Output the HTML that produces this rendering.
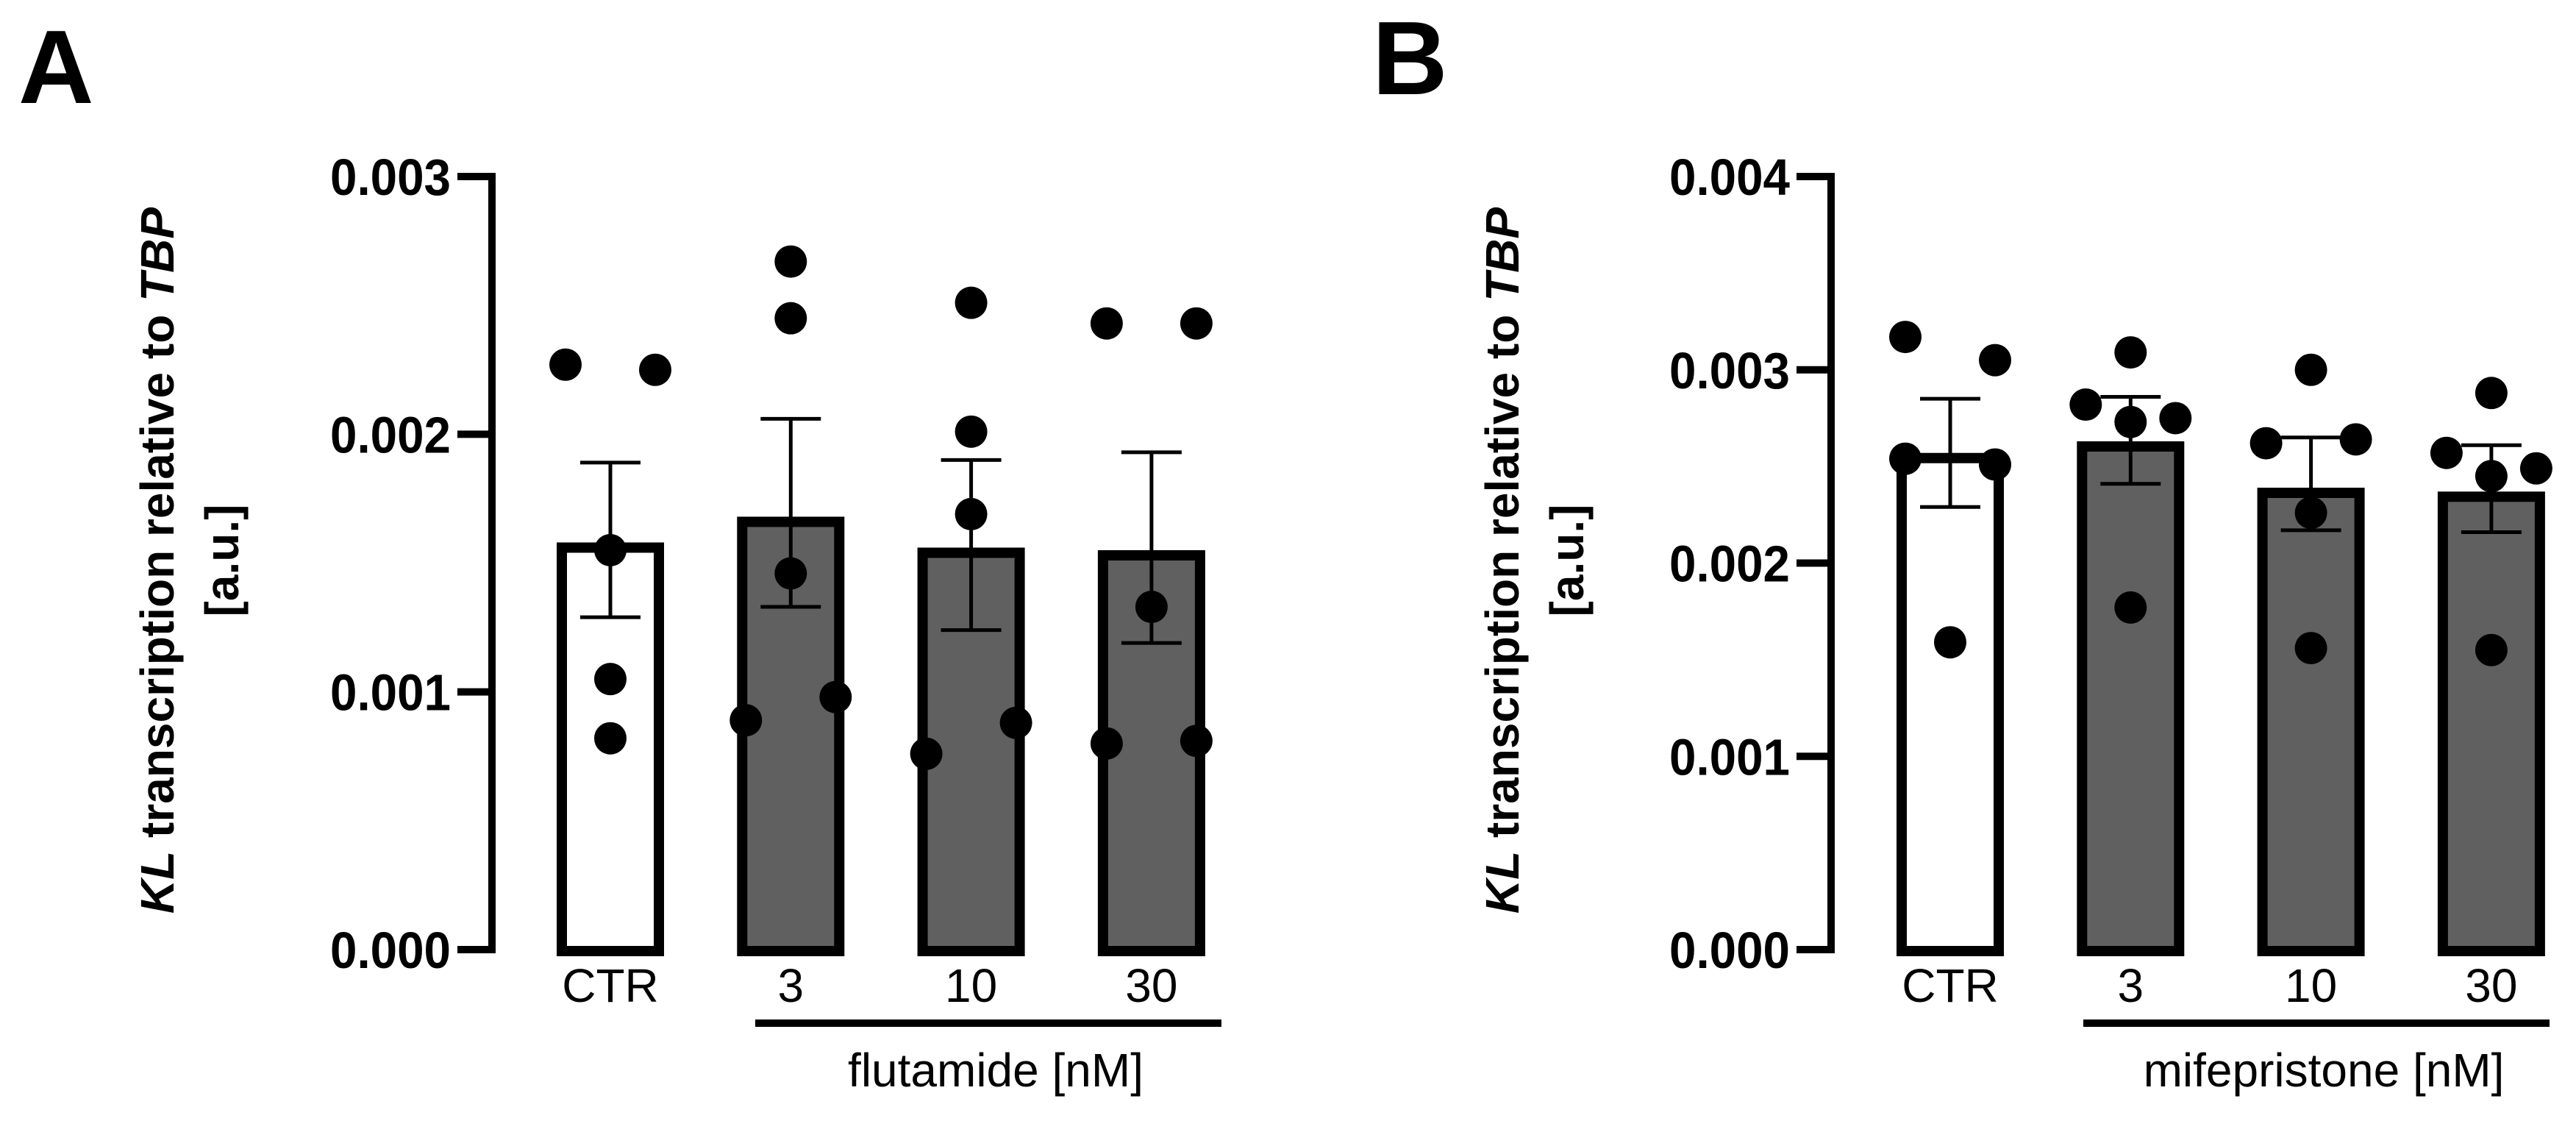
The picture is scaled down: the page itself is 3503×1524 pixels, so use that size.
<!DOCTYPE html>
<html><head><meta charset="utf-8"><style>
html,body{margin:0;padding:0;background:#fff;}
svg{display:block;font-family:"Liberation Sans",Arial,sans-serif;}
</style></head><body>
<svg id="fig" width="3503" height="1524" viewBox="0 0 3503 1524" xmlns="http://www.w3.org/2000/svg">
<rect x="0" y="0" width="3503" height="1524" fill="#fff"/>
<text x="25" y="140" font-size="142" font-weight="bold">A</text>
<text x="1866" y="128" font-size="142" font-weight="bold">B</text>
<g id="panelA"></g>
<g id="panelB"></g>
</svg>
<script>
const categories = ["CTR", "3", "10", "30"];
const meansA = [0.00158, 0.00168, 0.00156, 0.00155];
const errHiA = [0.00189, 0.00206, 0.00190, 0.00193];
const errLoA = [0.00129, 0.00133, 0.00124, 0.00119];
const dotsA = [
  [0.00227, 0.00225, 0.00155, 0.00105, 0.00082],
  [0.00267, 0.00245, 0.00146, 0.00089, 0.00098],
  [0.00251, 0.00201, 0.00169, 0.00076, 0.00088],
  [0.00243, 0.00243, 0.00133, 0.00080, 0.00081]
];
const dotSideA = [
  [-1, 1, 0, 0, 0],
  [0, 0, 0, -1, 1],
  [0, 0, 0, -1, 1],
  [-1, 1, 0, -1, 1]
];
const ticksA = [0, 0.001, 0.002, 0.003];
const tickLabelsA = ["0.000", "0.001", "0.002", "0.003"];

const meansB = [0.00257, 0.00263, 0.00239, 0.00237];
const errHiB = [0.00285, 0.00286, 0.00265, 0.00261];
const errLoB = [0.00229, 0.00241, 0.00217, 0.00216];
const dotsB = [
  [0.00317, 0.00305, 0.00254, 0.00251, 0.00159],
  [0.00309, 0.00282, 0.00273, 0.00275, 0.00177],
  [0.00300, 0.00262, 0.00264, 0.00226, 0.00156],
  [0.00288, 0.00257, 0.00249, 0.00245, 0.00155]
];
const dotSideB = [
  [-1, 1, -1, 1, 0],
  [0, -1, 0, 1, 0],
  [0, -1, 1, 0, 0],
  [0, -1, 1, 0, 0]
];
const ticksB = [0, 0.001, 0.002, 0.003, 0.004];
const tickLabelsB = ["0.000", "0.001", "0.002", "0.003", "0.004"];

const NS = "http://www.w3.org/2000/svg";
function mk(parent, tag, attrs, text) {
  const e = document.createElementNS(NS, tag);
  for (const k in attrs) e.setAttribute(k, attrs[k]);
  if (text !== undefined) e.textContent = text;
  parent.appendChild(e);
  return e;
}

function drawPanel(g, cfg) {
  const yScale = v => cfg.y0 - (v - cfg.vmin) / (cfg.vmax - cfg.vmin) * (cfg.y0 - cfg.yTop);
  const xScale = i => cfg.x0 + i * cfg.step;
  cfg.means.forEach((m, i) => {
    const cx = xScale(i), bw = 146, bt = 14;
    const top = yScale(m);
    const r = mk(g, "rect", {x: cx - bw/2 + bt/2, y: top + bt/2, width: bw - bt, height: cfg.y0 - top - bt/2 + 2,
      fill: i === 0 ? "#fff" : "#606060", stroke: "#000", "stroke-width": bt});
    
    
  });
  cfg.means.forEach((m, i) => {
    const cx = xScale(i);
    const eg = mk(g, "g", {stroke: "#000", "stroke-width": 5});
    
    
    mk(eg, "line", {x1: cx, x2: cx, y1: yScale(cfg.hi[i]), y2: yScale(cfg.lo[i])});
    mk(eg, "line", {x1: cx - 41, x2: cx + 41, y1: yScale(cfg.hi[i]), y2: yScale(cfg.hi[i])});
    mk(eg, "line", {x1: cx - 41, x2: cx + 41, y1: yScale(cfg.lo[i]), y2: yScale(cfg.lo[i])});
  });
  cfg.dots.forEach((arr, i) => {
    arr.forEach((v, j) => {
      const c = mk(g, "circle", {cx: xScale(i) + cfg.side[i][j] * 61, cy: yScale(v), r: 22, fill: "#000"});
      
      
    });
  });
  const ax = mk(g, "line", {x1: cfg.axX, x2: cfg.axX, y1: cfg.yTop - 5, y2: cfg.y0 + 5, stroke: "#000", "stroke-width": 10});
  
  
  cfg.ticks.forEach((t, k) => {
    const y = yScale(t);
    const tl = mk(g, "line", {x1: cfg.axX - 47, x2: cfg.axX, y1: y, y2: y, stroke: "#000", "stroke-width": 10});
    
    
    const tx = mk(g, "text", {x: cfg.axX - 56, y: y + 25, "font-size": 70, "font-weight": "bold", "text-anchor": "end",
      textLength: 164, lengthAdjust: "spacingAndGlyphs"}, cfg.tickLabels[k]);
    
    
  });
  categories.forEach((c, i) => {
    const t = mk(g, "text", {x: xScale(i), y: 1362, "font-size": 64, "text-anchor": "middle"}, c);
    
    
  });
  const ul = mk(g, "line", {x1: cfg.ulX1, x2: cfg.ulX2, y1: 1391, y2: 1391, stroke: "#000", "stroke-width": 10});
  
  
  const gl = mk(g, "text", {x: (cfg.ulX1 + cfg.ulX2) / 2 + 10, y: 1477, "font-size": 64, "text-anchor": "middle"}, cfg.groupLabel);
  
  
  const yt = mk(g, "text", {transform: "translate(" + cfg.titleX + ",762) rotate(-90)", "font-size": 64, "font-weight": "bold", "text-anchor": "middle"});
  
  
  mk(yt, "tspan", {x: 0, y: 0, "font-style": "italic"}, "KL");
  mk(yt, "tspan", {}, " transcription relative to ");
  mk(yt, "tspan", {"font-style": "italic"}, "TBP");
  mk(yt, "tspan", {x: 0, y: 88}, "[a.u.]");
}

drawPanel(document.getElementById("panelA"), {
  x0: 830, step: 245.3, y0: 1291, yTop: 240, vmin: 0, vmax: 0.003, axX: 669,
  means: meansA, hi: errHiA, lo: errLoA, dots: dotsA, side: dotSideA,
  ticks: ticksA, tickLabels: tickLabelsA, ulX1: 1027, ulX2: 1661, groupLabel: "flutamide [nM]", titleX: 236
});
drawPanel(document.getElementById("panelB"), {
  x0: 2652, step: 245.3, y0: 1291, yTop: 240, vmin: 0, vmax: 0.004, axX: 2490,
  means: meansB, hi: errHiB, lo: errLoB, dots: dotsB, side: dotSideB,
  ticks: ticksB, tickLabels: tickLabelsB, ulX1: 2833, ulX2: 3467, groupLabel: "mifepristone [nM]", titleX: 2065
});
</script>
</body></html>
